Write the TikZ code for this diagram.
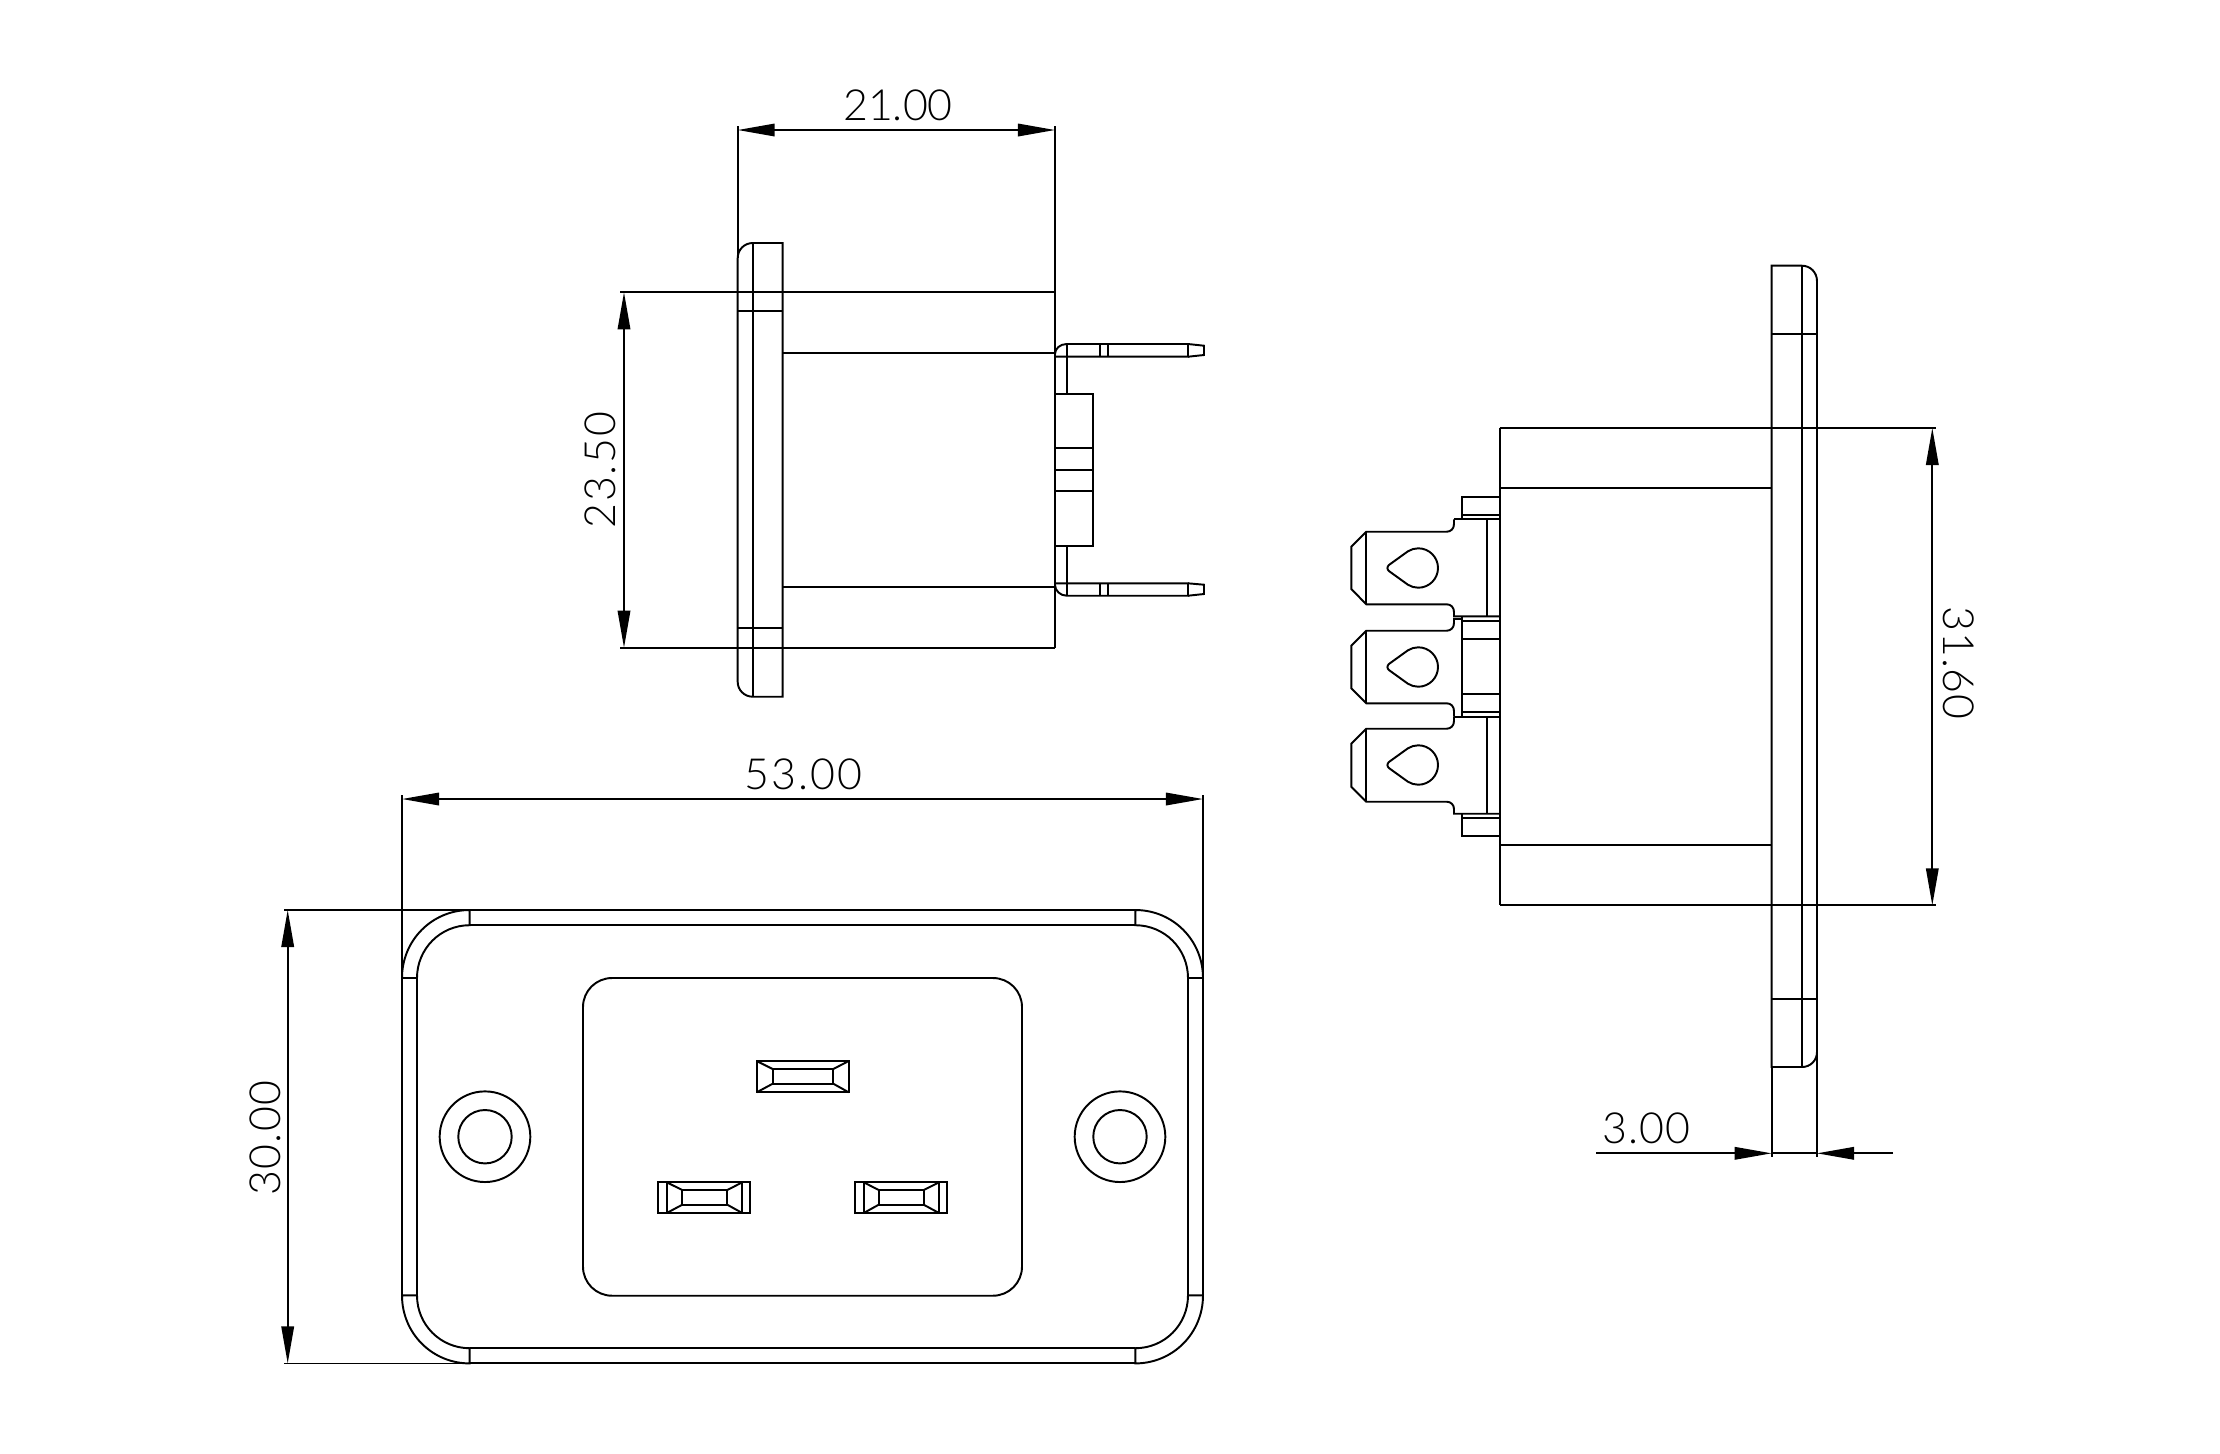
\documentclass[tikz,border=0pt]{standalone}
\usepackage{fontspec}
\setmainfont{Lato Light}
\usetikzlibrary{arrows.meta}
\tikzset{
  part/.style={line width=0.55pt,line join=miter},
  dimline/.style={line width=0.5pt},
  dimarrows/.style={dimline,{Triangle[length=3.7mm,width=1.25mm]}-{Triangle[length=3.7mm,width=1.25mm]}},
  dimend/.style={dimline,-{Triangle[length=3.7mm,width=1.25mm]}},
  dimtext/.style={inner sep=0pt,font=\fontsize{12.2}{14}\selectfont}
}
\newcommand{\spaced}[2]{{\addfontfeature{LetterSpace=#1}#2}}
\newcommand{\frontcorner}{%
  \draw[part] (-400.5,-158.7) .. controls (-400.5,-196.4) and (-370.5,-226.7) .. (-332.8,-226.7) -- (-332.8,-211.5)
    .. controls (-362,-211.5) and (-385.5,-188) .. (-385.5,-158.7) -- cycle;}
\newcommand{\teardrop}[2]{%
  \draw[part,shift={(#1,#2)}] (-29,-3.3) .. controls (-31.5,-1.5) and (-31.5,1.5) .. (-29,3.3) -- (-10.4,16.7)
    .. controls (-7.3,18.66) and (-3.69,19.7) .. (0,19.7)
    .. controls (10.88,19.7) and (19.7,10.88) .. (19.7,0)
    .. controls (19.7,-10.88) and (10.88,-19.7) .. (0,-19.7)
    .. controls (-3.69,-19.7) and (-7.3,-18.66) .. (-10.4,-16.7) -- cycle;}
\newcommand{\socket}[8]{% outer x1 x2 y1 y2, inner x1 x2 y1 y2
  \draw[part] (#1,#3) rectangle (#2,#4);
  \draw[part] (#5,#7) rectangle (#6,#8);
  \draw[part] (#1,#3) -- (#5,#7) (#2,#3) -- (#6,#7) (#1,#4) -- (#5,#8) (#2,#4) -- (#6,#8);}
\begin{document}
\begin{tikzpicture}[x=0.01cm,y=-0.01cm]
\fill[white] (0,0) rectangle (2220,1453);
\useasboundingbox (0,0) rectangle (2220,1453);

% ---------- top view ----------
\draw[part] (737.7,258) .. controls (737.7,249.7) and (744.4,243) .. (752.7,243) -- (782.7,243) -- (782.7,696.7) -- (752.7,696.7)
  .. controls (744.4,696.7) and (737.7,690) .. (737.7,682) -- cycle;
\draw[part] (752.7,243) -- (752.7,696.7);
\draw[part] (737.7,311) -- (782.7,311) (737.7,628) -- (782.7,628);
\draw[part] (782.7,353) -- (1055,353) (782.7,587) -- (1055,587);
\draw[dimline] (737.7,126) -- (737.7,258);
\draw[part] (1055,126) -- (1055,647.7);
\draw[dimline] (620,292.3) -- (1055,292.3) (620,647.7) -- (1055,647.7);
\coordinate (a1) at (737.7,130); \coordinate (a2) at (1055,130);
\draw[dimarrows] (a1) -- (a2);
\node[dimtext] (t21) at (898,105.5) {21.00};
\coordinate (b1) at (624,292.3); \coordinate (b2) at (624,647.7);
\draw[dimarrows] (b1) -- (b2);
\node[dimtext,rotate=90] (t23) at (600,470) {\spaced{4.6}{23.50}};
% pins of the top view
\draw[part] (1055,354) .. controls (1055,348.5) and (1060.2,344) .. (1066.7,344) -- (1188,344) -- (1188,356.7) -- (1055,356.7);
\draw[part] (1188,344) -- (1204,345.7) -- (1204,355) -- (1188,356.7);
\draw[part] (1100.3,344) -- (1100.3,356.7) (1108.3,344) -- (1108.3,356.7);
\draw[part] (1066.7,344) -- (1066.7,394) (1066.7,545.7) -- (1066.7,595.7);
\draw[part] (1055,585) .. controls (1055,590.5) and (1060.2,595.7) .. (1066.7,595.7) -- (1188,595.7) -- (1188,583.3) -- (1055,583.3);
\draw[part] (1188,583.3) -- (1204,584.7) -- (1204,594) -- (1188,595.7);
\draw[part] (1100.3,583.3) -- (1100.3,595.7) (1108.3,583.3) -- (1108.3,595.7);
\draw[part] (1055,394) rectangle (1093,545.7);
\draw[part] (1055,448.3) -- (1093,448.3) (1055,469.7) -- (1093,469.7) (1055,491) -- (1093,491);

% ---------- side view ----------
\draw[part] (1771.7,265.7) -- (1802,265.7) .. controls (1810.4,265.7) and (1817,272.5) .. (1817,281) -- (1817,1052)
  .. controls (1817,1060.4) and (1810.4,1067) .. (1802,1067) -- (1771.7,1067) -- cycle;
\draw[part] (1802,265.7) -- (1802,1067);
\draw[part] (1771.7,334) -- (1817,334) (1771.7,999.3) -- (1817,999.3);
\draw[part] (1499.7,428) -- (1771.7,428) (1499.7,905.3) -- (1771.7,905.3);
\draw[dimline] (1771.7,428) -- (1935.7,428) (1771.7,905.3) -- (1935.7,905.3);
\draw[part] (1499.7,428) -- (1499.7,905.3);
\draw[part] (1499.7,488.3) -- (1771.7,488.3) (1499.7,845) -- (1771.7,845);
\draw[dimline] (1771.7,1067) -- (1771.7,1156.7) (1817,1052) -- (1817,1156.7);
\coordinate (c1) at (1932.3,428); \coordinate (c2) at (1932.3,905.3);
\draw[dimarrows] (c1) -- (c2);
\node[dimtext,rotate=-90] (t31) at (1959,663) {\spaced{1.5}{31.60}};
\coordinate (d0) at (1596,1153.3); \coordinate (d1) at (1771.7,1153.3);
\coordinate (d2) at (1817,1153.3); \coordinate (d3) at (1893,1153.3);
\draw[dimend] (d0) -- (d1);
\draw[dimend] (d3) -- (d2);
\draw[dimline] (d1) -- (d2);
\node[dimtext] (t3) at (1646.5,1128.5) {\spaced{2.5}{3.00}};
% terminals
\draw[part] (1461.7,519.3) -- (1461.7,497) -- (1499.7,497);
\draw[part] (1461.7,515) -- (1499.7,515);
\draw[part] (1454,519.3) -- (1499.7,519.3);
\draw[part] (1454,519.3) -- (1454,524) .. controls (1454,528.5) and (1451,531.7) .. (1446.7,531.7) -- (1366.3,531.7) -- (1351.3,546.7) -- (1351.3,589) -- (1366.3,604.3) -- (1446.7,604.3) .. controls (1451,604.3) and (1454,607.5) .. (1454,612) -- (1454,616.3) -- (1499.7,616.3);
\draw[part] (1366.3,531.7) -- (1366.3,604.3);
\draw[part] (1487.3,519.3) -- (1487.3,616.3);
\draw[part] (1461.7,621.3) -- (1499.7,621.3) (1461.7,639.3) -- (1499.7,639.3) (1461.7,693.7) -- (1499.7,693.7) (1461.7,711.7) -- (1499.7,711.7);
\draw[part] (1461.7,616.3) -- (1461.7,716.7);
\draw[part] (1461.7,619) -- (1454,619) -- (1454,623) .. controls (1454,627.5) and (1451,630.7) .. (1446.7,630.7) -- (1366.3,630.7) -- (1351.3,645.7) -- (1351.3,688.3) -- (1366.3,703.3) -- (1446.7,703.3) .. controls (1451,703.3) and (1454,706.5) .. (1454,711) -- (1454,716.7);
\draw[part] (1366.3,630.7) -- (1366.3,703.3);
\draw[part] (1454,716.7) -- (1499.7,716.7);
\draw[part] (1454,716.7) -- (1454,721) .. controls (1454,725.5) and (1451,728.7) .. (1446.7,728.7) -- (1366.3,728.7) -- (1351.3,743.7) -- (1351.3,786.7) -- (1366.3,801.7) -- (1446.7,801.7) .. controls (1451,801.7) and (1454,804.9) .. (1454,809) -- (1454,813.7) -- (1499.7,813.7);
\draw[part] (1366.3,728.7) -- (1366.3,801.7);
\draw[part] (1487.3,716.7) -- (1487.3,813.7);
\draw[part] (1461.7,813.7) -- (1461.7,836) -- (1499.7,836);
\draw[part] (1461.7,818) -- (1499.7,818);
\teardrop{1418.3}{568}
\teardrop{1418.3}{667}
\teardrop{1418.3}{765}

% ---------- front view ----------
\begin{scope}[shift={(802.5,1136.7)}]
  \frontcorner
  \begin{scope}[xscale=-1]\frontcorner\end{scope}
  \begin{scope}[yscale=-1]\frontcorner\end{scope}
  \begin{scope}[xscale=-1,yscale=-1]\frontcorner\end{scope}
\end{scope}
\draw[part] (402,978) -- (402,1295.4) (417,978) -- (417,1295.4);
\draw[part] (1203,978) -- (1203,1295.4) (1188,978) -- (1188,1295.4);
\draw[part] (469.7,910) -- (1135.3,910) (469.7,925.2) -- (1135.3,925.2);
\draw[part] (469.7,1363.4) -- (1135.3,1363.4) (469.7,1348.2) -- (1135.3,1348.2);
\draw[dimline] (284,910) -- (469.7,910) (284,1363.4) -- (469.7,1363.4);
\draw[dimline] (402,795) -- (402,978) (1203,795) -- (1203,978);
\coordinate (e1) at (402,799); \coordinate (e2) at (1203,799);
\draw[dimarrows] (e1) -- (e2);
\node[dimtext] (t53) at (803.5,774) {\spaced{4.6}{53.00}};
\coordinate (f1) at (287.7,910); \coordinate (f2) at (287.7,1363.4);
\draw[dimarrows] (f1) -- (f2);
\node[dimtext,rotate=90] (t30) at (265,1138) {\spaced{3.5}{30.00}};
\draw[part,rounded corners=0.29cm] (583,978) rectangle (1022,1295.7);
\draw[part] (485,1136.7) circle[radius=0.453cm] (485,1136.7) circle[radius=0.267cm];
\draw[part] (1120,1136.7) circle[radius=0.453cm] (1120,1136.7) circle[radius=0.267cm];
\socket{756.7}{848.7}{1061}{1092.3}{772.7}{833.3}{1069}{1083.7}
\socket{666.7}{742.3}{1182.3}{1213}{682.3}{727.3}{1190}{1204.7}
\socket{863.7}{939}{1182.3}{1213}{878.7}{923.7}{1190}{1204.7}
\draw[part] (658.3,1182.3) rectangle (750.3,1213);
\draw[part] (854.7,1182.3) rectangle (946.7,1213);
\end{tikzpicture}
\end{document}
